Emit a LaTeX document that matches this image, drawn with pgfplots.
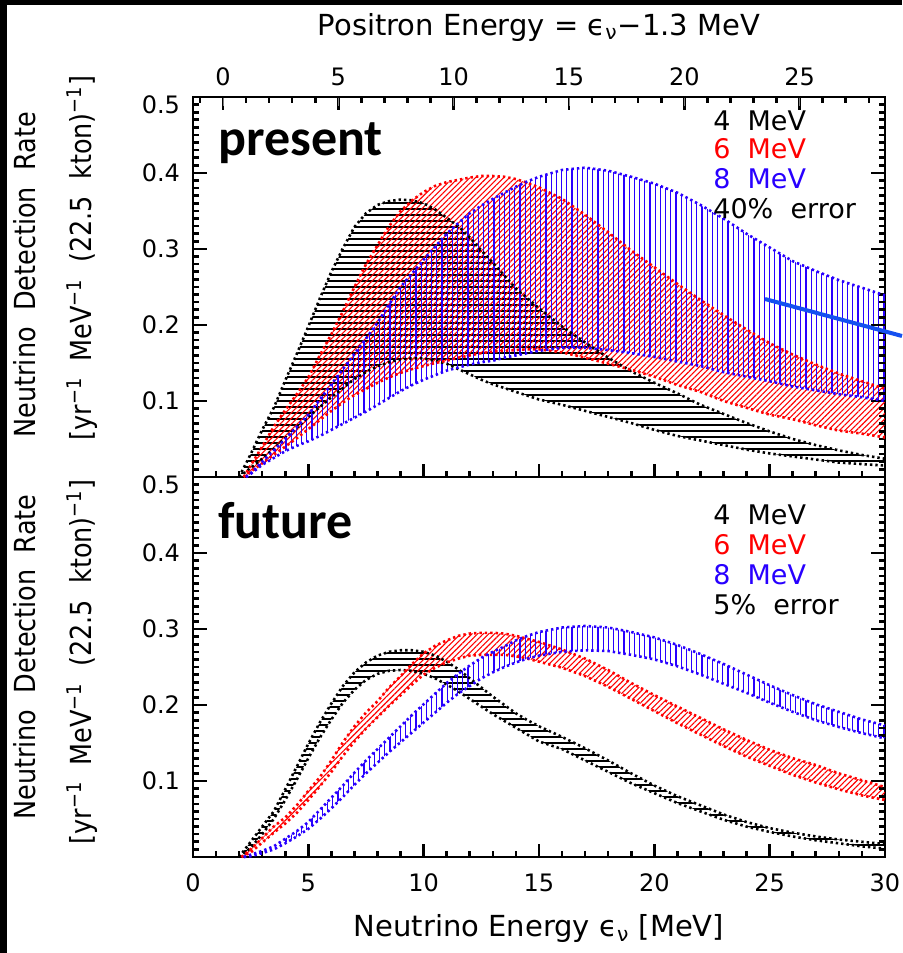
\documentclass[border=0pt]{standalone}
\usepackage{fontspec}
\setmainfont{DejaVu Sans}
\newfontfamily\calib{Carlito}
\newfontfamily\condfont[FakeStretch=0.88]{DejaVu Sans}
\usepackage{pgfplots}
\usepackage{pgfplotstable}
\pgfplotsset{compat=1.18}
\usepgfplotslibrary{fillbetween}
\usetikzlibrary{patterns,patterns.meta}
\definecolor{myred}{RGB}{255,0,0}
\definecolor{myblue}{RGB}{40,0,255}
\definecolor{arrowblue}{RGB}{20,80,240}

% ---------- present (40% error) ----------
\pgfplotstableread{
E up lo
2.0 0.000 0.000
2.5 0.030 0.012
3.0 0.062 0.024
3.5 0.091 0.037
4.0 0.127 0.051
4.5 0.162 0.065
5.0 0.198 0.079
5.5 0.235 0.092
6.0 0.270 0.105
6.5 0.301 0.117
7.0 0.329 0.129
7.5 0.347 0.138
8.0 0.358 0.146
8.5 0.363 0.151
9.0 0.365 0.155
9.5 0.364 0.156
10.0 0.360 0.156
10.5 0.352 0.153
11.0 0.341 0.149
11.5 0.330 0.142
12.0 0.315 0.135
12.5 0.298 0.128
13.0 0.282 0.122
13.5 0.265 0.117
14.0 0.248 0.112
14.5 0.235 0.107
15.0 0.222 0.102
16.0 0.198 0.095
17.0 0.177 0.087
18.0 0.157 0.079
19.0 0.139 0.071
20.0 0.124 0.062
21.0 0.110 0.054
22.0 0.095 0.048
23.0 0.083 0.042
24.0 0.071 0.036
25.0 0.060 0.031
26.0 0.050 0.027
27.0 0.042 0.023
28.0 0.035 0.019
29.0 0.029 0.017
30.0 0.024 0.015
}\Ktop

\pgfplotstableread{
E up lo
2.2 0.000 0.000
2.5 0.015 0.007
3.0 0.040 0.018
3.5 0.066 0.029
4.0 0.088 0.040
4.5 0.109 0.051
5.0 0.131 0.063
5.5 0.160 0.075
6.0 0.188 0.087
6.5 0.218 0.098
7.0 0.250 0.108
7.5 0.280 0.116
8.0 0.305 0.124
8.5 0.330 0.131
9.0 0.350 0.137
9.5 0.364 0.142
10.0 0.375 0.146
10.5 0.383 0.150
11.0 0.388 0.153
11.5 0.391 0.157
12.0 0.394 0.160
12.5 0.396 0.163
13.0 0.396 0.165
13.5 0.395 0.166
14.0 0.392 0.167
14.5 0.387 0.168
15.0 0.381 0.168
16.0 0.366 0.164
17.0 0.345 0.157
18.0 0.322 0.149
19.0 0.298 0.141
20.0 0.276 0.132
21.0 0.254 0.121
22.0 0.233 0.112
23.0 0.213 0.100
24.0 0.194 0.091
25.0 0.176 0.082
26.0 0.161 0.076
27.0 0.148 0.068
28.0 0.136 0.061
29.0 0.126 0.057
30.0 0.116 0.052
}\Rtop

\pgfplotstableread{
E up lo
2.3 0.000 0.000
2.5 0.005 0.004
3.0 0.020 0.016
3.5 0.035 0.025
4.0 0.050 0.034
4.5 0.066 0.041
5.0 0.082 0.047
5.5 0.102 0.054
6.0 0.122 0.062
6.5 0.142 0.070
7.0 0.162 0.078
7.5 0.182 0.086
8.0 0.203 0.095
8.5 0.227 0.104
9.0 0.250 0.113
9.5 0.268 0.121
10.0 0.286 0.128
10.5 0.303 0.134
11.0 0.320 0.140
11.5 0.334 0.144
12.0 0.347 0.148
12.5 0.357 0.151
13.0 0.366 0.153
13.5 0.374 0.157
14.0 0.382 0.160
14.5 0.389 0.163
15.0 0.395 0.166
16.0 0.404 0.170
17.0 0.407 0.170
18.0 0.403 0.167
19.0 0.395 0.163
20.0 0.386 0.158
21.0 0.374 0.152
22.0 0.358 0.146
23.0 0.340 0.138
24.0 0.320 0.132
25.0 0.302 0.126
26.0 0.284 0.119
27.0 0.271 0.114
28.0 0.259 0.109
29.0 0.249 0.105
30.0 0.239 0.100
}\Btop

% ---------- future (5% error) ----------
\pgfplotstableread{
E up lo
2.0 0.000 0.000
2.5 0.020 0.012
3.0 0.040 0.030
3.5 0.060 0.050
4.0 0.089 0.075
4.5 0.119 0.102
5.0 0.149 0.130
5.5 0.177 0.157
6.0 0.202 0.181
6.5 0.225 0.203
7.0 0.243 0.220
7.5 0.256 0.233
8.0 0.265 0.241
8.5 0.270 0.245
9.0 0.272 0.246
9.5 0.272 0.245
10.0 0.270 0.241
10.5 0.265 0.235
11.0 0.257 0.227
11.5 0.247 0.218
12.0 0.235 0.208
12.5 0.223 0.198
13.0 0.211 0.188
13.5 0.200 0.179
14.0 0.189 0.170
14.5 0.180 0.161
15.0 0.172 0.152
16.0 0.158 0.142
17.0 0.143 0.127
18.0 0.127 0.112
19.0 0.110 0.097
20.0 0.094 0.084
21.0 0.080 0.071
22.0 0.068 0.060
23.0 0.056 0.049
24.0 0.046 0.040
25.0 0.038 0.033
26.0 0.032 0.027
27.0 0.027 0.022
28.0 0.023 0.018
29.0 0.020 0.014
30.0 0.017 0.011
}\Kbot

\pgfplotstableread{
E up lo
2.1 0.000 0.000
2.5 0.010 0.006
3.0 0.025 0.019
3.5 0.040 0.032
4.0 0.052 0.044
4.5 0.068 0.058
5.0 0.087 0.075
5.5 0.105 0.093
6.0 0.127 0.112
6.5 0.151 0.133
7.0 0.172 0.152
7.5 0.190 0.169
8.0 0.205 0.184
8.5 0.223 0.199
9.0 0.238 0.213
9.5 0.254 0.227
10.0 0.268 0.240
10.5 0.278 0.249
11.0 0.285 0.256
11.5 0.291 0.261
12.0 0.294 0.265
12.5 0.295 0.266
13.0 0.295 0.266
13.5 0.294 0.266
14.0 0.291 0.264
14.5 0.287 0.261
15.0 0.283 0.257
16.0 0.273 0.249
17.0 0.261 0.238
18.0 0.246 0.224
19.0 0.229 0.208
20.0 0.213 0.192
21.0 0.198 0.176
22.0 0.183 0.161
23.0 0.168 0.146
24.0 0.154 0.132
25.0 0.141 0.120
26.0 0.130 0.108
27.0 0.121 0.098
28.0 0.110 0.089
29.0 0.101 0.081
30.0 0.092 0.075
}\Rbot

\pgfplotstableread{
E up lo
2.2 0.000 0.000
2.5 0.003 0.001
3.0 0.008 0.005
3.5 0.014 0.010
4.0 0.024 0.018
4.5 0.034 0.027
5.0 0.046 0.037
5.5 0.062 0.050
6.0 0.078 0.064
6.5 0.094 0.079
7.0 0.111 0.095
7.5 0.127 0.110
8.0 0.142 0.124
8.5 0.157 0.138
9.0 0.172 0.151
9.5 0.187 0.164
10.0 0.201 0.177
10.5 0.215 0.190
11.0 0.229 0.203
11.5 0.241 0.215
12.0 0.252 0.225
12.5 0.262 0.235
13.0 0.270 0.243
13.5 0.277 0.250
14.0 0.285 0.256
14.5 0.291 0.261
15.0 0.296 0.265
16.0 0.302 0.270
17.0 0.304 0.272
18.0 0.302 0.271
19.0 0.296 0.266
20.0 0.289 0.260
21.0 0.279 0.251
22.0 0.267 0.240
23.0 0.254 0.228
24.0 0.240 0.216
25.0 0.226 0.203
26.0 0.213 0.191
27.0 0.201 0.180
28.0 0.191 0.171
29.0 0.181 0.163
30.0 0.173 0.156
}\Bbot

\pgfplotsset{
  panel/.style={
    scale only axis, width=346pt, height=190pt,
    xmin=0, xmax=30, ymin=0, ymax=0.5,
    clip=false,
    axis line style={line width=1pt},
    every tick/.append style={line width=1.2pt, black},
    tick align=inside,
    xtick={0,5,10,15,20,25,30}, minor x tick num=4,
    ytick={0,0.1,0.2,0.3,0.4}, minor y tick num=9,
    yticklabels={,0.1,0.2,0.3,0.4},
    extra y ticks={0.5}, extra y tick labels={0.5},
    extra y tick style={yticklabel style={yshift=-4pt}},
    ytick pos=both, yticklabel pos=left,
    xtick pos=bottom,
    yticklabel style={font=\fontsize{12}{14}\selectfont, xshift=-3pt},
    xticklabel style={font=\fontsize{12}{14}\selectfont, yshift=-5pt},
  },
  bnd/.style={line width=1.3pt, dash pattern=on 1.2pt off 1.5pt},
  kpat/.style={pattern={Lines[angle=0,distance=3pt,line width=0.6pt]}, pattern color=black},
  rpat/.style={pattern={Lines[angle=45,distance=2pt,line width=0.55pt]}, pattern color=myred},
  bpat/.style={pattern={Lines[angle=90,distance=2.6pt,line width=0.6pt]}, pattern color=myblue},
}
\tikzset{
  ylab1/.style={rotate=90, anchor=base, inner sep=0pt, font=\condfont\fontsize{14.5}{16}\selectfont},
  leg/.style={anchor=base west, inner sep=0pt, font=\fontsize{13.5}{15}\selectfont},
  big/.style={anchor=base west, inner sep=0pt, font=\calib\bfseries\fontsize{26}{30}\selectfont},
  tk/.style={line width=1.3pt, color=black, draw=black, solid},
}
% frame tick marks, all in axis units (1 pt = 0.0867 MeV in x, 0.00263 in y)
\newcommand{\frameticks}{%
  \pgfplotsinvokeforeach{1,2,3,4,6,7,8,9,11,12,13,14,16,17,18,19,21,22,23,24,26,27,28,29}{
    \draw[tk] (axis cs:##1,0) -- (axis cs:##1,0.0079);}
  \pgfplotsinvokeforeach{5,10,15,20,25}{
    \draw[tk] (axis cs:##1,0) -- (axis cs:##1,0.0171);}
  \pgfplotsinvokeforeach{0.01,0.02,0.03,0.04,0.05,0.06,0.07,0.08,0.09,0.11,0.12,0.13,0.14,0.15,0.16,0.17,0.18,0.19,0.21,0.22,0.23,0.24,0.25,0.26,0.27,0.28,0.29,0.31,0.32,0.33,0.34,0.35,0.36,0.37,0.38,0.39,0.41,0.42,0.43,0.44,0.45,0.46,0.47,0.48,0.49}{
    \draw[tk] (axis cs:0,##1) -- (axis cs:0.26,##1);
    \draw[tk] (axis cs:30,##1) -- (axis cs:29.74,##1);}
  \pgfplotsinvokeforeach{0.1,0.2,0.3,0.4}{
    \draw[tk] (axis cs:0,##1) -- (axis cs:0.61,##1);
    \draw[tk] (axis cs:30,##1) -- (axis cs:29.39,##1);}
}

\begin{document}
\begin{tikzpicture}

% ---------------- bottom panel: future ----------------
\begin{axis}[panel, at={(0pt,0pt)}, anchor=south west,
  xticklabels={0,5,10,15,20,25,30},
  xlabel={Neutrino Energy ϵ\textsubscript{ν} [MeV]},
  xlabel style={at={(axis description cs:0.5,-0.2105)}, anchor=base, font=\fontsize{14.5}{16}\selectfont}]
  \frameticks
  \addplot[name path=ku2, black, bnd] table[x=E,y=up]{\Kbot};
  \addplot[name path=kl2, black, bnd] table[x=E,y=lo]{\Kbot};
  \addplot[kpat] fill between[of=ku2 and kl2];
  \addplot[name path=ru2, myred, bnd] table[x=E,y=up]{\Rbot};
  \addplot[name path=rl2, myred, bnd] table[x=E,y=lo]{\Rbot};
  \addplot[rpat] fill between[of=ru2 and rl2];
  \addplot[name path=bu2, myblue, bnd] table[x=E,y=up]{\Bbot};
  \addplot[name path=bl2, myblue, bnd] table[x=E,y=lo]{\Bbot};
  \addplot[bpat] fill between[of=bu2 and bl2];
  \node[big] at (axis description cs:0.0361,0.837) {future};
  \node[leg, text=black] at (axis description cs:0.7514,0.874) {4\ \ MeV};
  \node[leg, text=myred] at (axis description cs:0.7514,0.795) {6\ \ MeV};
  \node[leg, text=myblue] at (axis description cs:0.7514,0.716) {8\ \ MeV};
  \node[leg, text=black] at (axis description cs:0.7514,0.637) {5\%\ \ error};
  \node[ylab1] at (axis description cs:-0.2269,0.526) {Neutrino\ \ Detection\ \ Rate};
  \node[ylab1] at (axis description cs:-0.146,0.513) {[yr\textsuperscript{−1}\ \ MeV\textsuperscript{−1}\ \ (22.5\ \ kton)\textsuperscript{−1}]};
\end{axis}

% ---------------- top panel: present ----------------
\begin{axis}[panel, at={(0pt,190pt)}, anchor=south west, xticklabels={,,,,,,}]
  \frameticks
  % positron-energy ticks on the top edge (neutrino energy = positron energy + 1.3)
  \pgfplotsinvokeforeach{1.3,6.3,11.3,16.3,21.3,26.3}{
    \draw[tk] (axis cs:#1,0.5) -- (axis cs:#1,0.4829);}
  \pgfplotsinvokeforeach{0.3,2.3,3.3,4.3,5.3,7.3,8.3,9.3,10.3,12.3,13.3,14.3,15.3,17.3,18.3,19.3,20.3,22.3,23.3,24.3,25.3,27.3,28.3,29.3}{
    \draw[tk] (axis cs:#1,0.5) -- (axis cs:#1,0.4921);}
  \addplot[name path=ku1, black, bnd] table[x=E,y=up]{\Ktop};
  \addplot[name path=kl1, black, bnd] table[x=E,y=lo]{\Ktop};
  \addplot[kpat] fill between[of=ku1 and kl1];
  \addplot[name path=ru1, myred, bnd] table[x=E,y=up]{\Rtop};
  \addplot[name path=rl1, myred, bnd] table[x=E,y=lo]{\Rtop};
  \addplot[rpat] fill between[of=ru1 and rl1];
  \addplot[name path=bu1, myblue, bnd] table[x=E,y=up]{\Btop};
  \addplot[name path=bl1, myblue, bnd] table[x=E,y=lo]{\Btop};
  \addplot[bpat] fill between[of=bu1 and bl1];
  \node[big] at (axis description cs:0.0361,0.847) {present};
  \node[leg, text=black] at (axis description cs:0.7514,0.913) {4\ \ MeV};
  \node[leg, text=myred] at (axis description cs:0.7514,0.837) {6\ \ MeV};
  \node[leg, text=myblue] at (axis description cs:0.7514,0.760) {8\ \ MeV};
  \node[leg, text=black] at (axis description cs:0.7514,0.681) {40\%\ \ error};
  \node[ylab1] at (axis description cs:-0.2269,0.532) {Neutrino\ \ Detection\ \ Rate};
  \node[ylab1] at (axis description cs:-0.146,0.576) {[yr\textsuperscript{−1}\ \ MeV\textsuperscript{−1}\ \ (22.5\ \ kton)\textsuperscript{−1}]};
\end{axis}

% ---------------- top scale: positron energy ----------------
\begin{axis}[scale only axis, width=346pt, height=190pt,
  at={(0pt,190pt)}, anchor=south west,
  xmin=-1.3, xmax=28.7, ymin=0, ymax=0.5,
  hide y axis, axis x line*=top,
  axis line style={line width=1pt},
  xtick={0,5,10,15,20,25},
  xticklabels={0,5,10,15,20,25},
  xticklabel style={font=\fontsize{12}{14}\selectfont, yshift=2pt},
  xlabel={Positron Energy = ϵ\textsubscript{ν}−1.3 MeV},
  xlabel style={at={(axis description cs:0.5,1.163)}, anchor=base, font=\fontsize{14.5}{16}\selectfont}]
  \addplot[draw=none] coordinates {(0,0)};
\end{axis}

% annotation line and slide border
\draw[arrowblue, line width=2pt] (286pt,279pt) -- (354.5pt,260.5pt);
\fill[black] (-96.5pt,-48pt) rectangle (-93pt,428.5pt);
\fill[black] (-96.5pt,426pt) rectangle (354.5pt,428.5pt);
\pgfresetboundingbox
\path[use as bounding box] (-96.5pt,-48pt) rectangle (354.5pt,428.5pt);
\end{tikzpicture}
\end{document}
